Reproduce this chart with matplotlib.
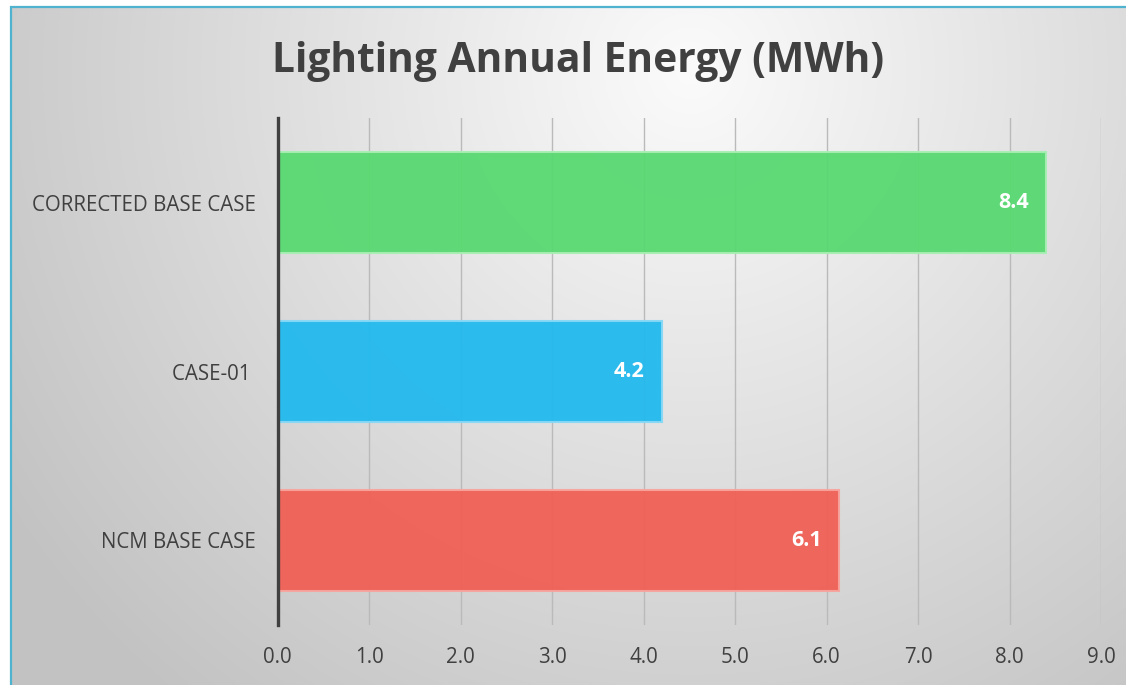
import numpy as np
import matplotlib
matplotlib.use("Agg")
import matplotlib.pyplot as plt

categories = ["CORRECTED BASE CASE", "CASE-01 ", "NCM BASE CASE"]
values = [8.4, 4.2, 6.14]
bar_colors = ["#58d971", "#22b9ee", "#f06055"]
edge_colors = ["#a6efb2", "#86d8f6", "#f8a49e"]
x_ticks = [0, 1, 2, 3, 4, 5, 6, 7, 8, 9]
title = "Lighting Annual Energy (MWh)"

W, H, DPI = 1126, 685, 100
plt.rcParams["font.family"] = ["Open Sans", "DejaVu Sans"]

fig = plt.figure(figsize=(W / DPI, H / DPI), dpi=DPI)
fig.patch.set_facecolor("white")

# radial grey background
bg = fig.add_axes([0, 0, 1, 1], zorder=0)
yy, xx = np.mgrid[0:H, 0:W]
d = np.hypot(xx - 690, yy - 70)
t = np.clip(d / 820.0, 0, 1)
shade = (251 - (251 - 194) * t) / 255.0
img = np.dstack([shade, shade, shade])
img[:6, :, :] = 1.0
img[:, :10, :] = 1.0
bg.imshow(img, extent=[0, W, H, 0], aspect="auto", interpolation="bilinear")
bg.set_xlim(0, W)
bg.set_ylim(H, 0)
bg.axis("off")
# frame edges on the left and top
bg.plot([10.5, 10.5], [6, H], color="#4fb3cf", lw=1.6, solid_capstyle="butt")
bg.plot([10, W], [6.5, 6.5], color="#4fb3cf", lw=1.6, solid_capstyle="butt")

ax = fig.add_axes([277.7 / W, (H - 625) / H, (1101 - 277.7) / W, (625 - 118) / H], zorder=1)
ax.patch.set_alpha(0)

ypos = np.arange(len(categories))
for y, v, c, e in zip(ypos, values, bar_colors, edge_colors):
    ax.barh(y, v, height=0.6, color=c, edgecolor=e, linewidth=1.5, alpha=0.95, zorder=2)
    ax.text(v - 0.19, y, f"{v:.1f}", ha="right", va="center", color="white",
            fontsize=15.5, fontweight="bold", zorder=3)

ax.set_xlim(0, 9)
ax.set_ylim(2.5, -0.5)
ax.set_xticks(x_ticks)
ax.set_xticklabels([f"{v:.1f}" for v in x_ticks])
ax.set_yticks(ypos)
ax.set_yticklabels(categories)
ax.tick_params(axis="both", length=0, colors="#404040", labelsize=14.8)
ax.tick_params(axis="x", pad=16)
ax.tick_params(axis="y", pad=16)
ax.xaxis.grid(True, color="#bababa", lw=1.0, zorder=1)
ax.set_axisbelow(True)
for s in ["top", "right", "bottom"]:
    ax.spines[s].set_visible(False)
ax.spines["left"].set_color("#404040")
ax.spines["left"].set_linewidth(2.4)
ax.spines["left"].set_zorder(4)

fig.text(578 / W, 1 - 61 / H, title, ha="center", va="center",
         fontsize=29.3, fontweight="bold", color="#404040")

fig.savefig("out.png", dpi=DPI)
